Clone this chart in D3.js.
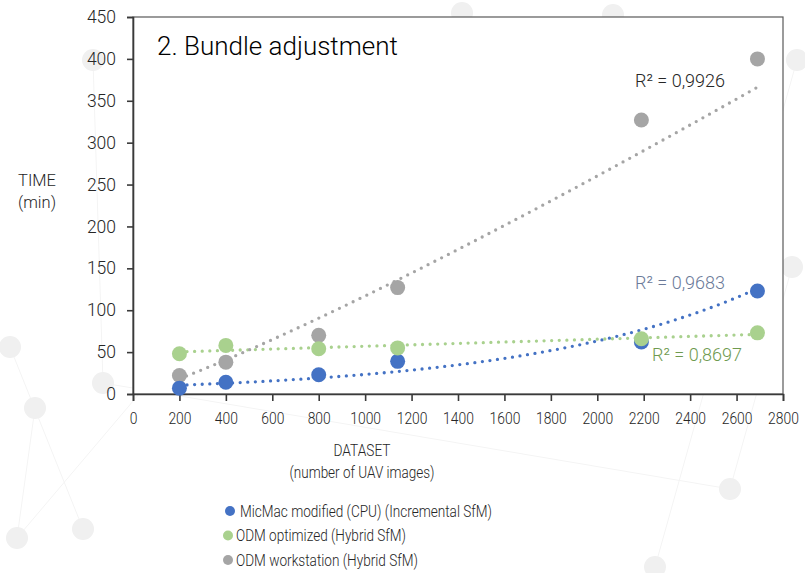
<!DOCTYPE html>
<html>
<head>
<meta charset="utf-8">
<script src="https://cdn.jsdelivr.net/npm/d3@7"></script>
<style>
  body { margin: 0; background: #fff; }
  text { font-family: Roboto, "Liberation Sans", sans-serif; font-weight: 300; fill: #262626; }
</style>
</head>
<body>
<div id="chart"></div>
<script>
const width = 805,
  height = 573,
  margin = { top: 17, bottom: 179, left: 133, right: 22 };

// dataset sizes (number of UAV images)
const images = [200, 400, 800, 1140, 2190, 2690];

// processing time (min)
const micmac = [7, 14, 23, 39, 62, 123];
const odmOptimized = [48, 58, 54, 55, 66, 73];
const odmWorkstation = [22, 38, 70, 127, 327, 400];

const seriesNames = [
  "MicMac modified (CPU) (Incremental SfM)",
  "ODM optimized (Hybrid SfM)",
  "ODM workstation (Hybrid SfM)",
];
const seriesColors = ["#4472c4", "#a9d18e", "#a5a5a5"];
// Excel trendline type per series
const trendTypes = ["exponential", "linear", "power"];
const r2Labels = ["R² = 0,9683", "R² = 0,8697", "R² = 0,9926"];
const r2Colors = ["#6b7a99", "#6f9a4f", "#262626"];

const xTicks = d3.range(0, 2801, 200);
const yTicks = d3.range(0, 451, 50);

// faint network pattern behind the chart
const bgNodes = [[10, 347], [35, 408], [103, 383], [17, 538], [83, 529], [93, 60],
  [730, 489], [655, 567], [462, 13], [613, 15], [797, 60], [792, 267]];
const bgLinks = [[0, 4], [3, 1], [2, 6], [3, 8], [6, 11], [5, 2], [7, 10]];

const svg = d3.select("#chart")
  .append("svg")
  .attr("width", width)
  .attr("height", height);

const bg = svg.append("g");
bg.selectAll("line")
  .data(bgLinks)
  .join("line")
  .attr("x1", d => bgNodes[d[0]][0]).attr("y1", d => bgNodes[d[0]][1])
  .attr("x2", d => bgNodes[d[1]][0]).attr("y2", d => bgNodes[d[1]][1])
  .attr("stroke", "#f4f4f4")
  .attr("stroke-width", 1);
bg.selectAll("circle")
  .data(bgNodes)
  .join("circle")
  .attr("cx", d => d[0]).attr("cy", d => d[1])
  .attr("r", 11)
  .attr("fill", "#f0f0f0");

const x = d3.scaleLinear().domain([0, 2800]).range([margin.left, width - margin.right]);
const y = d3.scaleLinear().domain([0, 450]).range([height - margin.bottom, margin.top]);

// plot area
svg.append("rect")
  .attr("x", x(0)).attr("y", y(450))
  .attr("width", x(2800) - x(0)).attr("height", y(0) - y(450))
  .attr("fill", "#fff")
  .attr("stroke", "#595959")
  .attr("stroke-width", 1.2);

const yAxis = svg.append("g")
  .attr("transform", `translate(${x(0)},0)`)
  .call(d3.axisLeft(y).tickValues(yTicks).tickSize(6).tickPadding(11).tickFormat(d3.format("d")));
yAxis.selectAll("text").style("font-size", "17.5px");

const xAxis = svg.append("g")
  .attr("transform", `translate(0,${y(0)})`)
  .call(d3.axisBottom(x).tickValues(xTicks).tickSize(7).tickPadding(11).tickFormat(d3.format("d")));
xAxis.selectAll("text")
  .style("font-size", "17px")
  .attr("textLength", d => String(d).length * 7.7)
  .attr("lengthAdjust", "spacingAndGlyphs");

svg.selectAll(".domain, .tick line").attr("stroke", "#3a3a3a").attr("stroke-width", 1.6);

// least-squares trendlines like Excel's
function fitTrend(type, xs, ys) {
  const tx = type === "power" ? xs.map(Math.log) : xs;
  const ty = type === "linear" ? ys : ys.map(Math.log);
  const mx = d3.mean(tx), my = d3.mean(ty);
  const b = d3.sum(tx, (v, i) => (v - mx) * (ty[i] - my)) / d3.sum(tx, v => (v - mx) ** 2);
  const a = my - b * mx;
  if (type === "linear") return xv => a + b * xv;
  if (type === "exponential") return xv => Math.exp(a + b * xv);
  return xv => Math.exp(a + b * Math.log(xv));
}

const series = [micmac, odmOptimized, odmWorkstation];
const line = d3.line().x(d => x(d[0])).y(d => y(d[1]));
const xs = d3.range(images[0], images[images.length - 1] + 1, 10);

series.forEach((vals, i) => {
  const f = fitTrend(trendTypes[i], images, vals);
  svg.append("path")
    .datum(xs.map(xv => [xv, f(xv)]))
    .attr("d", line)
    .attr("fill", "none")
    .attr("stroke", seriesColors[i])
    .attr("stroke-width", 3.3)
    .attr("stroke-linecap", "round")
    .attr("stroke-dasharray", "0 7.6");
});

// points (workstation first, optimized on top)
[2, 0, 1].forEach(i => {
  svg.append("g")
    .selectAll("circle")
    .data(images.map((im, j) => [im, series[i][j]]))
    .join("circle")
    .attr("cx", d => x(d[0]))
    .attr("cy", d => y(d[1]))
    .attr("r", 7.5)
    .attr("fill", seriesColors[i]);
});

// R² labels
const r2Pos = [[635, 289], [652, 361], [635, 87]];
svg.selectAll(".r2")
  .data(r2Labels)
  .join("text")
  .attr("class", "r2")
  .attr("x", (d, i) => r2Pos[i][0])
  .attr("y", (d, i) => r2Pos[i][1])
  .style("font-size", "18px")
  .style("fill", (d, i) => r2Colors[i])
  .text(d => d);

// title
svg.append("text")
  .attr("x", 157).attr("y", 55)
  .style("font-size", "26px")
  .style("fill", "#000")
  .text("2. Bundle adjustment");

// axis titles
svg.append("text").attr("x", 37).attr("y", 186).attr("text-anchor", "middle")
  .style("font-size", "16.5px").text("TIME");
svg.append("text").attr("x", 37).attr("y", 208).attr("text-anchor", "middle")
  .style("font-size", "16.5px").text("(min)");
svg.append("text").attr("x", 362).attr("y", 456).attr("text-anchor", "middle")
  .style("font-size", "16.5px")
  .attr("textLength", 57).attr("lengthAdjust", "spacingAndGlyphs").text("DATASET");
svg.append("text").attr("x", 362).attr("y", 478).attr("text-anchor", "middle")
  .style("font-size", "16.5px")
  .attr("textLength", 145).attr("lengthAdjust", "spacingAndGlyphs").text("(number of UAV images)");

// legend
const legendWidths = [252, 170, 182];
const legend = svg.append("g")
  .selectAll("g")
  .data(seriesNames)
  .join("g")
  .attr("transform", (d, i) => `translate(${i === 0 ? 230 : 228},${511 + i * 24.5})`);
legend.append("circle").attr("r", 5).attr("fill", (d, i) => seriesColors[i]);
legend.append("text")
  .attr("x", (d, i) => (i === 0 ? 10 : 8))
  .attr("y", 5.5)
  .style("font-size", "16px")
  .attr("textLength", (d, i) => legendWidths[i])
  .attr("lengthAdjust", "spacingAndGlyphs")
  .text(d => d);
</script>
</body>
</html>
